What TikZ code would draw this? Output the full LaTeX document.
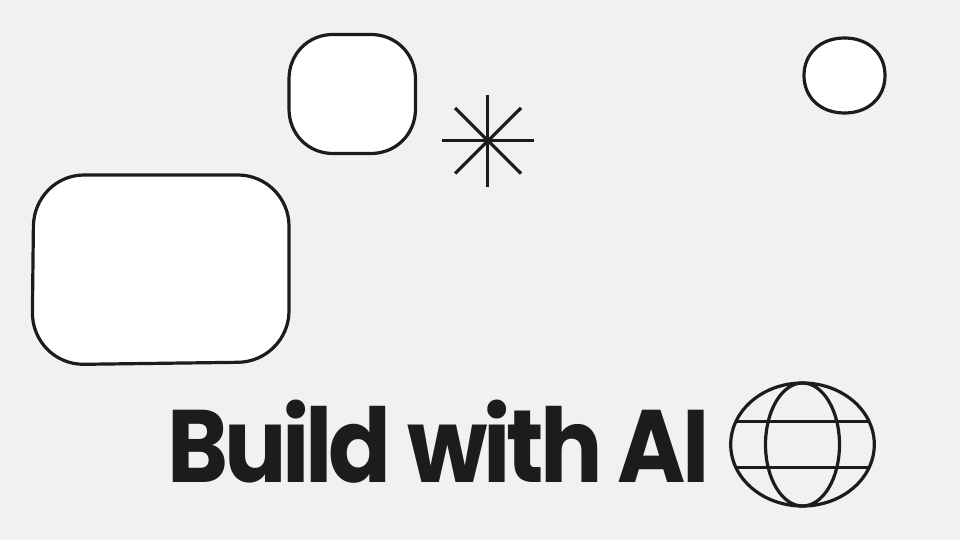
\documentclass[tikz,border=0pt]{standalone}
\usepackage{fontspec}
\setmainfont{Poppins}[LetterSpace=-4.5,WordSpace=1.0]
\definecolor{ink}{HTML}{1C1C1C}
\definecolor{paper}{HTML}{F1F1F1}
\tikzset{
  outline/.style={draw=ink,line width=3.2pt,fill=white,line join=round},
  wire/.style={draw=ink,line width=3.2pt},
  title/.style={text=ink,inner sep=0pt,anchor=base west,font=\fontsize{103}{110}\selectfont\bfseries}
}
\begin{document}
\begin{tikzpicture}[x=1pt,y=-1pt]
\useasboundingbox[fill=paper] (0,0) rectangle (960,540);
% large rounded box
\path[outline] (84,175) -- (238,175)
  .. controls (266,175) and (289,198) .. (289,226)
  -- (289,311)
  .. controls (289,339) and (266,362) .. (238,362.3)
  -- (84,364.3)
  .. controls (55,364.6) and (32,341) .. (32.4,312)
  -- (33.4,226)
  .. controls (33.8,198) and (56,175) .. (84,175) -- cycle;
% small rounded box
\path[outline] (333,34.5) -- (371,34.5)
  .. controls (396,34.5) and (415.5,54) .. (415.5,79)
  -- (415.5,109)
  .. controls (415.5,134) and (396,153.5) .. (371,153.5)
  -- (333,153.5)
  .. controls (308,153.5) and (289,134) .. (289,109)
  -- (289,79)
  .. controls (289,54) and (308,34.5) .. (333,34.5) -- cycle;
% circle
\path[outline] (844.5,38)
  .. controls (869,38) and (885,54) .. (885,75.5)
  .. controls (885,97) and (869,113) .. (844.5,113)
  .. controls (820,113) and (804,97) .. (804,75.5)
  .. controls (804,54) and (820,38) .. (844.5,38) -- cycle;
% asterisk
\draw[wire] (442,140.7) -- (534,140.7);
\draw[wire] (487.7,95) -- (487.7,187);
\draw[wire] (455,108) -- (521,173.5);
\draw[wire] (521,108) -- (455,173.5);
% title
\node[title] (t) at (167,482) {\scalebox{.9}[1]{Build with AI}};
% globe
\draw[wire] (802.5,444.5) ellipse [x radius=71.8,y radius=61.5];
\draw[wire] (802.5,444.5) ellipse [x radius=37,y radius=61.5];
\draw[wire] (736,421.7) -- (869,421.7);
\draw[wire] (736,467.3) -- (869,467.3);
\end{tikzpicture}
\end{document}
